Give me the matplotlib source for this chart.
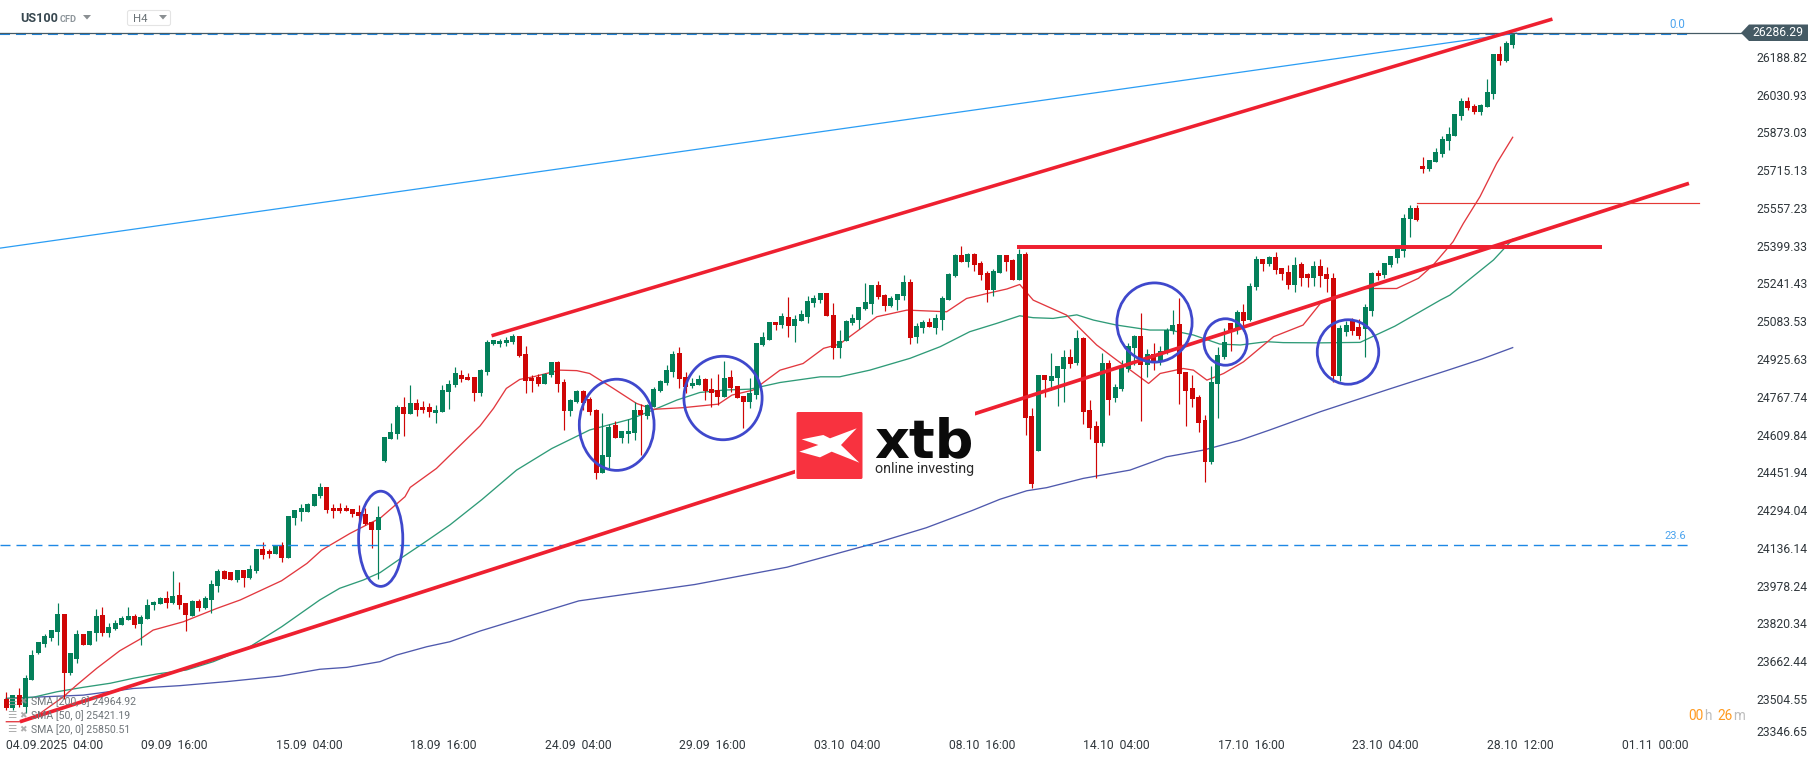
import matplotlib
matplotlib.use("Agg")
import numpy as np
import matplotlib.pyplot as plt
from matplotlib.patches import Ellipse, Polygon, FancyBboxPatch, Rectangle
from matplotlib.transforms import ScaledTranslation

W, H = 1815, 761
plt.rcParams['font.family'] = ['Roboto', 'DejaVu Sans']
plt.rcParams['lines.scale_dashes'] = False

opens = [23484,23447,23501,23452,23565,23678,23716,23741,23767,23843,
23594,23653,23758,23712,23762,23838,23762,23779,23796,23817,
23834,23800,23822,23880,23885,23910,23889,23923,23889,23834,
23897,23868,23901,23960,24024,24019,23986,24028,23994,24024,
24116,24108,24095,24132,24078,24247,24272,24272,24298,24340,
24378,24289,24289,24289,24285,24272,24264,24230,24196,24487,
24580,24601,24715,24685,24731,24715,24715,24689,24693,24778,
24807,24849,24841,24841,24774,24862,24980,24980,24984,24988,
25014,24938,24837,24841,24812,24849,24904,24820,24698,24736,
24782,24748,24702,24437,24504,24639,24584,24601,24605,24702,
24677,24715,24782,24816,24862,24942,24841,24803,24807,24833,
24790,24786,24757,24841,24803,24761,24736,24765,24976,24997,
25073,25060,25094,25056,25077,25094,25153,25165,25195,25102,
24963,24993,25068,25081,25127,25148,25228,25186,25140,25165,
25182,25241,25010,25047,25073,25047,25081,25165,25266,25355,
25325,25359,25321,25279,25207,25279,25355,25334,25250,25359,
24677,24529,24849,24824,24837,24875,24925,24900,25005,24702,
24635,24563,24900,24753,24790,24875,24963,25014,24892,24938,
24908,24946,25035,25064,24862,24795,24757,24660,24483,24812,
24925,25068,25039,25115,25081,25220,25338,25317,25346,25300,
25283,25229,25317,25275,25258,25309,25275,25258,24845,25030,
25075,25050,25045,25120,25279,25271,25313,25342,25372,25507,
25553,25730,25717,25747,25780,25835,25856,25940,26004,25983,
25957,25978,26033,26202,26172,26240]

highs = [23515,23501,23529,23584,23691,23725,23757,23775,23889,23843,
23678,23775,23758,23771,23864,23872,23805,23817,23834,23872,
23843,23838,23906,23897,23914,23939,24024,23977,23889,23901,
23906,23918,23986,24032,24028,24019,24028,24028,24049,24116,
24144,24115,24133,24144,24255,24281,24306,24310,24348,24394,
24378,24306,24310,24302,24285,24302,24289,24230,24298,24588,
24647,24723,24757,24807,24748,24740,24731,24723,24807,24828,
24883,24870,24858,24841,24875,24997,24997,25001,25010,25022,
25014,24972,24849,24854,24858,24904,24908,24833,24748,24786,
24786,24757,24706,24689,24643,24656,24614,24664,24736,24727,
24727,24799,24828,24892,24950,24967,24862,24837,24849,24837,
24837,24854,24908,24870,24803,24761,24837,24984,25030,25073,
25073,25111,25178,25102,25123,25182,25186,25195,25195,25153,
25039,25081,25106,25136,25237,25228,25245,25191,25182,25191,
25271,25254,25068,25081,25090,25106,25182,25279,25359,25393,
25363,25363,25330,25287,25296,25355,25355,25338,25380,25368,
24710,24849,24849,24942,24887,24955,24959,25039,25010,24744,
24656,24942,24913,24812,24913,24984,25018,25111,24959,24984,
24972,25047,25123,25174,24862,24849,24765,24681,24887,24967,
25047,25068,25123,25148,25237,25351,25338,25351,25367,25300,
25313,25346,25325,25278,25330,25338,25306,25279,25060,25075,
25090,25085,25150,25285,25292,25321,25351,25380,25528,25566,
25566,25768,25755,25806,25856,25894,25949,26016,26021,25991,
25991,26096,26202,26235,26256,26290]

lows = [23438,23438,23452,23424,23565,23674,23705,23730,23712,23483,
23587,23636,23712,23712,23729,23750,23746,23775,23796,23817,
23784,23712,23822,23859,23885,23868,23885,23864,23771,23834,
23855,23864,23847,23935,23990,23986,23977,23956,23990,24015,
24074,24078,24095,24062,24078,24217,24234,24272,24298,24331,
24268,24247,24268,24277,24251,24234,24217,24121,23990,24483,
24580,24580,24592,24685,24677,24689,24672,24647,24693,24706,
24799,24820,24828,24740,24761,24849,24976,24967,24972,24980,
24925,24774,24778,24803,24812,24841,24778,24618,24677,24731,
24702,24681,24411,24437,24449,24584,24563,24563,24576,24512,
24664,24715,24778,24807,24841,24795,24774,24795,24807,24744,
24715,24723,24757,24778,24752,24626,24710,24748,24972,24997,
25039,25047,25010,24988,25077,25068,25136,25153,25098,24917,
24921,24993,25060,25043,25123,25106,25170,25119,25136,25123,
25165,24980,24984,25026,25052,25022,25039,25165,25262,25325,
25304,25287,25250,25157,25182,25279,25287,25250,25250,24597,
24373,24529,24757,24786,24719,24736,24879,24892,24643,24580,
24416,24550,24681,24736,24782,24862,24892,24656,24841,24870,
24892,24938,25022,24727,24635,24715,24609,24399,24475,24668,
24917,24950,25022,25035,25077,25207,25287,25309,25275,25250,
25212,25199,25224,25220,25224,25220,25199,24820,24825,25015,
25020,25000,24925,25100,25250,25260,25304,25321,25347,25431,
25498,25700,25709,25747,25768,25797,25856,25924,25966,25949,
25945,25978,26012,26155,26168,26227]

closes = [23447,23501,23459,23573,23670,23725,23750,23775,23843,23595,
23678,23758,23712,23771,23834,23762,23788,23805,23826,23834,
23796,23830,23880,23893,23910,23889,23918,23880,23838,23897,
23868,23910,23969,24024,23990,23986,24028,23994,24032,24116,
24091,24095,24133,24078,24255,24281,24289,24306,24348,24378,
24281,24277,24277,24277,24264,24255,24222,24196,24251,24588,
24609,24715,24685,24731,24702,24702,24693,24702,24786,24811,
24858,24833,24828,24774,24870,24988,24997,24993,24997,25014,
24929,24824,24824,24812,24854,24904,24812,24698,24744,24782,
24731,24694,24437,24512,24630,24584,24614,24614,24702,24681,
24723,24790,24824,24870,24938,24833,24799,24816,24833,24782,
24774,24757,24837,24795,24752,24736,24774,24984,25009,25073,
25060,25098,25056,25085,25106,25161,25174,25195,25098,24963,
24993,25077,25090,25136,25157,25228,25178,25140,25174,25191,
25241,25005,25056,25073,25052,25090,25174,25275,25355,25325,
25359,25313,25271,25207,25287,25355,25325,25250,25359,24668,
24390,24849,24828,24845,24887,24925,24896,25005,24694,24626,
24563,24900,24744,24799,24887,24972,25014,24892,24938,24908,
24950,25039,25060,24854,24782,24748,24647,24483,24820,24934,
24988,25039,25115,25077,25224,25338,25317,25346,25292,25275,
25229,25313,25258,25258,25309,25266,25252,24845,25049,25060,
25035,25015,25135,25279,25266,25321,25351,25380,25511,25553,
25502,25717,25755,25789,25844,25865,25949,26004,25974,25957,
25987,26042,26202,26172,26248,26286]

sma20_x = [0,2.4,5.25,8.9,11,14.1,17.7,20.8,22.9,27.6,32.8,36.5,42.95,46.9,49.2,53.6,56.2,58.3,
           62.2,63,67.1,73.9,76,78,80.1,82.2,85.3,86.4,89,91,94.7,98.3,100.9,105.6,111.1,113.2,116.5,120.7,
           124.3,127.5,130,135.8,140.5,146.7,149.8,153,156.1,158.1,160.2,165.4,170.1,173.2,178.2,180,183.6,
           185.2,187.3,189.9,193,197.7,202.3,205,206.5,211.7,216.9,220.3,222.6,225.7,227.3,229.9,232.5,235]
sma20_y = [23389,23389,23424,23494,23544,23614,23688,23736,23775,23810,23866,23902,23983,24056,24112,24182,24218,24246,
           24337,24376,24456,24635,24709,24793,24831,24842,24863,24870,24868,24856,24793,24730,24705,24712,24727,24765,24786,24870,
           24898,24962,24980,25095,25123,25116,25172,25193,25212,25231,25165,25102,24976,24913,24814,24856,24877,
           24870,24828,24856,24905,25011,25060,25151,25172,25214,25214,25257,25313,25411,25488,25601,25741,25851]

sma50_x = [0,4.2,7.85,12,16.2,19.8,23.45,28.1,32.3,38,42.95,48.9,52,55.7,58.3,61.9,65,69.2,74.2,79.6,85.1,91,97.3,100.9,
           104.6,108.2,111.9,116,120.7,127,130,134.7,141,145.7,150.3,154.5,158.1,160.2,163.3,167,169.6,173.2,178.4,181.5,
           185.2,189.3,192.5,196.6,199.2,205,211.2,216.6,223.7,225.2,232,235]
sma50_y = [23487,23492,23515,23534,23551,23572,23590,23607,23642,23705,23789,23902,23951,23986,24017,24084,24140,24218,24325,24449,24540,24618,24663,24702,
           24744,24776,24786,24790,24818,24842,24842,24870,24920,24969,25032,25067,25099,25091,25088,25103,25081,25060,25039,25039,
           25018,24980,24976,24990,24986,24985,24987,25055,25165,25186,25334,25421]

sma200_x = [0,5.8,12,19.8,27.1,34.4,42.7,48.9,53.1,58.3,60.9,65.6,69.2,73.9,89.3,107.4,121.8,136.3,143.5,150.7,155,159.2,162.3,
            168,175.3,181,186.7,192.5,197.1,205,215.7,224.8,230.2,235]
sma200_y = [23487,23494,23501,23529,23541,23558,23581,23610,23618,23642,23670,23705,23726,23771,23898,23967,24040,24147,24206,24279,24326,24362,24375,
            24414,24449,24505,24533,24575,24618,24695,24790,24869,24917,24965]

y_ticks = [26188.82,26030.93,25873.03,25715.13,25557.23,25399.33,25241.43,25083.53,24925.63,24767.74,
           24609.84,24451.94,24294.04,24136.14,23978.24,23820.34,23662.44,23504.55,23346.65]
x_tick_pos = [0,21,42,63,84,105,126,147,168,189,210,231,252]
x_tick_labels = ['04.09.2025  04:00','09.09  16:00','15.09  04:00','18.09  16:00','24.09  04:00','29.09  16:00',
                 '03.10  04:00','08.10  16:00','14.10  04:00','17.10  16:00','23.10  04:00','28.10  12:00','01.11  00:00']

# drawn trend lines: (bar, price) pairs in the same readings
upper_x, upper_y = [75.7, 241.2], [25015, 26349]
lower_x, lower_y = [2.13, 262.5], [23389, 25657]
flat_x, flat_y = [157.7, 248.9], [25387, 25387]
thin_x, thin_y = [220.1, 264.1], [25573, 25573]
fib_x, fib_y = [-0.99, 235.6], [25384, 26290]

last_price = 26286.29

def cal(v):
    """Readings were taken on a slightly different price scale; align them with the axis labels."""
    return 26284 + 0.99202 * (np.asarray(v, dtype=float) - 26286.3)

o, h_, l_, c = cal(opens), cal(highs), cal(lows), cal(closes)
n = np.arange(len(o))
up = c >= o

PX_AX_R, PX_AX_B = 1745, 738
fig = plt.figure(figsize=(W/100, H/100), dpi=100, facecolor='white')
ax = fig.add_axes([0, 1-PX_AX_B/H, PX_AX_R/W, PX_AX_B/H], facecolor='white')
ax.set_xlim((0-6.33)/6.41, (PX_AX_R-6.33)/6.41)
ax.set_ylim(26425.9-4.179*PX_AX_B, 26425.9)
for s in ax.spines.values():
    s.set_visible(False)

GREEN, RED = '#04805a', '#cf0606'
colors = np.where(up, GREEN, RED)

ax.plot(sma200_x, cal(sma200_y), color='#4f59ad', lw=0.95, zorder=1)
ax.plot(sma50_x, cal(sma50_y), color='#2f9b78', lw=0.95, zorder=1)
ax.plot(sma20_x, cal(sma20_y), color='#e2383f', lw=0.95, zorder=1)

ax.vlines(n, l_, h_, colors=colors, lw=0.85, zorder=2)
ax.bar(n, np.maximum(np.abs(c-o), 3), bottom=np.minimum(o, c), width=0.78, color=colors, linewidth=0, zorder=3)

# fib levels and price line
ax.plot([-1, 263], cal([26288, 26288]), color='#1e88e5', lw=1.5, ls=(0, (7.2, 4.3)), zorder=4)
ax.plot([-1, 263], cal([24133, 24133]), color='#1e88e5', lw=1.0, ls=(0, (7.2, 4.3)), zorder=4)
ax.axhline(last_price+1, color='#455a64', lw=0.9, zorder=5)
ax.plot(fib_x, cal(fib_y), color='#2a9df4', lw=0.9, zorder=4)

RL = '#ee2030'
for xs, ys, lw in [(upper_x, upper_y, 2.55), (lower_x, lower_y, 2.65), (flat_x, flat_y, 2.85)]:
    ax.plot(xs, cal(ys), color=RL, lw=lw, solid_capstyle='butt', zorder=6)
ax.plot(thin_x, cal(thin_y), color='#e53935', lw=0.85, zorder=6)

ax.yaxis.tick_right()
ax.set_yticks(y_ticks)
ax.set_yticklabels([f'{v:.2f}' for v in y_ticks])
ax.tick_params(axis='y', length=0, pad=8, labelsize=8.7, labelcolor='#30373c')
last_tick = ax.yaxis.get_major_ticks()[-1]
last_tick.label2.set_transform(last_tick.label2.get_transform() + ScaledTranslation(0, 5.5/100, fig.dpi_scale_trans))

ax.set_xticks(x_tick_pos)
ax.set_xticklabels(x_tick_labels, ha='left')
ax.tick_params(axis='x', length=0, pad=0.5, labelsize=8.7, labelcolor='#30373c')

# overlay in pixel coordinates for annotations, logo and header
ov = fig.add_axes([0, 0, 1, 1], facecolor='none')
ov.set_xlim(0, W)
ov.set_ylim(H, 0)
ov.axis('off')

for cx, cy, w, h in [(380.7,538.8,46.7,97.7),(616.7,424.8,77.3,93.7),(723,398,80.7,86),
                     (1154.5,322.5,77.7,81.7),(1225.5,342,45.7,49),(1348,352,64,67)]:
    ov.add_patch(Ellipse((cx, cy), w-2.5, h-2.5, fill=False, ec='#3f48cc', lw=2.0))

# price tag
ov.add_patch(Polygon([(1741,33),(1749,24.5),(1808,24.5),(1808,41),(1749,41)], closed=True, fc='#455a64', ec='none'))
ov.text(1803, 33, '26286.29', color='white', fontsize=8.7, ha='right', va='center')

# fib labels
ov.text(1677, 24.5, '0.0', color='#4aa3ee', fontsize=8.3, ha='center', va='center')
ov.text(1675, 536, '23.6', color='#4aa3ee', fontsize=8.0, ha='center', va='center')

# logo
ov.add_patch(Rectangle((795, 405), 180, 80, fc='white', ec='none'))
ov.add_patch(FancyBboxPatch((796.5, 412), 66, 67, boxstyle='round,pad=0,rounding_size=1.5', fc='#f8323f', ec='none'))
star = [(125,628),(190,615),(210,625),(290,595),(243,645),(298,698),(215,665),(180,682),(118,665),(175,645)]
ov.add_patch(Polygon([(760+a/3, 230+b/3) for a, b in star], closed=True, fc='white', ec='none'))
ov.text(874, 457, 'xtb', color='#0b0b0b', fontsize=39, fontweight='bold', family='DejaVu Sans', ha='left', va='baseline')
ov.text(875, 472.5, 'online investing', color='#2a2a2a', fontsize=10.3, ha='left', va='baseline')

# header
ov.text(20, 18.5, 'US100', color='#37474f', fontsize=9.1, fontweight='bold', ha='left', va='center')
ov.text(60, 19, 'CFD', color='#8d959a', fontsize=6.6, fontweight='bold', ha='left', va='center')
ov.add_patch(Polygon([(83,15),(91,15),(87,19.5)], closed=True, fc='#8a8f92', ec='none'))
ov.add_patch(FancyBboxPatch((127.5,10.5), 43, 15, boxstyle='round,pad=0,rounding_size=2', fc='white', ec='#e4e4e4', lw=0.8))
ov.text(133, 19, 'H4', color='#6a7276', fontsize=8.2, ha='left', va='center')
ov.add_patch(Polygon([(159,15),(167,15),(163,19.5)], closed=True, fc='#8a8f92', ec='none'))

# legend of moving averages
for yy, txt in [(701.7,'SMA [200, 0] 24964.92'), (715.5,'SMA [50, 0] 25421.19'), (729.5,'SMA [20, 0] 25850.51')]:
    ov.text(31, yy, txt, color='#6f7579', fontsize=7.6, ha='left', va='center')
    ov.text(7, yy, '\u2630', color='#9a9a9a', fontsize=7.5, family='DejaVu Sans', ha='left', va='center', alpha=0.8)
    ov.text(19, yy, '\u2716', color='#9a9a9a', fontsize=6.5, family='DejaVu Sans', ha='left', va='center', alpha=0.8)

# countdown
cd_y = 716
for x0, t, col in [(1688,'00','#ff9a1f'),(1704,'h','#bdbdbd'),(1717,'26','#ff9a1f'),(1733,'m','#bdbdbd')]:
    ov.text(x0, cd_y, t, color=col, fontsize=9.8, ha='left', va='center')

fig.savefig('out.png', dpi=100, facecolor='white')
